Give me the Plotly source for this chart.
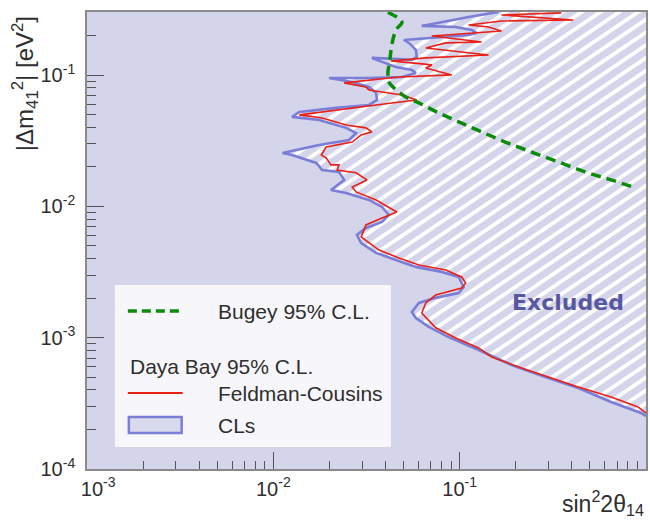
import base64
import plotly.graph_objects as go

# ---------------------------------------------------------------------------
# Exclusion contours in the (sin^2 2theta_14, |dm^2_41|) plane
# ---------------------------------------------------------------------------

# Bugey 95% C.L. contour
bugey_sin2 = [0.0412, 0.0490, 0.0455, 0.0432, 0.0422, 0.0412, 0.0417, 0.0444,
              0.0514, 0.0604, 0.0773, 0.0989, 0.131, 0.176, 0.243, 0.338,
              0.472, 0.650, 0.885]
bugey_dm2 = [0.300, 0.2535, 0.220, 0.169, 0.130, 0.104, 0.0885, 0.0798,
             0.068, 0.0614, 0.0514, 0.0440, 0.0369, 0.0309, 0.0259, 0.0218,
             0.0183, 0.0159, 0.0138]

# Daya Bay 95% C.L. contour, CLs method
cls_sin2 = [0.1617, 0.1117, 0.0626, 0.0952, 0.1159, 0.1233, 0.1117, 0.0801,
            0.0502, 0.0534, 0.0582, 0.0589, 0.0554, 0.0472, 0.0338, 0.0383,
            0.0455, 0.0554, 0.0582, 0.0490, 0.0326, 0.0199, 0.0265, 0.0326,
            0.0356, 0.0360, 0.0326, 0.0217, 0.0138, 0.0126, 0.0176, 0.0246,
            0.0278, 0.0255, 0.0176, 0.0112, 0.0126, 0.0170, 0.0183, 0.0225,
            0.0240, 0.0204, 0.0246, 0.0326, 0.0383, 0.0417, 0.0383, 0.0314,
            0.0281, 0.0296, 0.0356, 0.0455, 0.0582, 0.0801, 0.0988, 0.105,
            0.0988, 0.0744, 0.0604, 0.0554, 0.0582, 0.0683, 0.0873, 0.1264,
            0.1897, 0.2884, 0.4329, 0.6497, 0.9404, 1.0]
cls_dm2 = [0.302, 0.277, 0.2366, 0.2324, 0.2206, 0.2092, 0.2020, 0.1951,
           0.1850, 0.1756, 0.1553, 0.1373, 0.1303, 0.1326, 0.1350, 0.1259,
           0.1153, 0.1094, 0.1038, 0.0967, 0.0950, 0.0950, 0.0886, 0.0812,
           0.0731, 0.0646, 0.0592, 0.0562, 0.0524, 0.0480, 0.0455, 0.0396,
           0.0362, 0.0320, 0.0293, 0.0255, 0.0246, 0.0214, 0.0189, 0.0183,
           0.0159, 0.01333, 0.01265, 0.01119, 0.00990, 0.00860, 0.00761,
           0.00685, 0.00606, 0.00526, 0.00442, 0.00391, 0.00346, 0.00317,
           0.00290, 0.00243, 0.00219, 0.00201, 0.00184, 0.00157, 0.00141,
           0.00121, 0.00101, 0.000806, 0.000620, 0.000502, 0.000414,
           0.000324, 0.000267, 0.000253]

# Daya Bay 95% C.L. contour, Feldman-Cousins method
fc_sin2 = [0.3512, 0.1677, 0.407, 0.1677, 0.1117, 0.1429, 0.1677, 0.1159,
           0.0709, 0.1311, 0.0842, 0.0658, 0.1429, 0.0658, 0.0428, 0.0554,
           0.0709, 0.0658, 0.0906, 0.0472, 0.0240, 0.0314, 0.0326, 0.0490,
           0.0589, 0.0433, 0.0265, 0.0138, 0.0183, 0.0246, 0.0314, 0.0338,
           0.0296, 0.0265, 0.0192, 0.0181, 0.0192, 0.0204, 0.0225, 0.0220,
           0.0278, 0.0318, 0.0265, 0.0278, 0.0356, 0.0460, 0.0383, 0.0314,
           0.0296, 0.0369, 0.0472, 0.0604, 0.0842, 0.1025, 0.1077, 0.1025,
           0.0744, 0.0658, 0.0626, 0.0744, 0.0952, 0.1264, 0.1483, 0.2146,
           0.3105, 0.4329, 0.6497, 0.9062, 1.0]
fc_dm2 = [0.2972, 0.2868, 0.2628, 0.2582, 0.2407, 0.2324, 0.2167, 0.2092,
          0.1985, 0.1787, 0.1756, 0.1608, 0.1422, 0.1350, 0.1280, 0.1237,
          0.1194, 0.1133, 0.1002, 0.0967, 0.0871, 0.0812, 0.0770, 0.0705,
          0.0646, 0.0613, 0.0562, 0.0497, 0.0471, 0.0417, 0.0396, 0.0369,
          0.0350, 0.0309, 0.0283, 0.0246, 0.0234, 0.0207, 0.0207, 0.0189,
          0.0180, 0.0159, 0.01405, 0.01288, 0.01119, 0.00906, 0.00816,
          0.00722, 0.00585, 0.00465, 0.00405, 0.00358, 0.00328, 0.00290,
          0.00261, 0.00239, 0.00211, 0.00184, 0.00154, 0.00119, 0.000995,
          0.000835, 0.000713, 0.000588, 0.000493, 0.000421, 0.000353,
          0.000297, 0.000267]

# Axis ticks
x_tick_vals = [1e-3, 1e-2, 1e-1, 1.0]
x_tick_text = ["&nbsp;&nbsp;&nbsp;&nbsp;10<sup>-3</sup>", "10<sup>-2</sup>",
               "10<sup>-1</sup>", "1"]
y_tick_vals = [1e-4, 1e-3, 1e-2, 1e-1]
y_tick_text = ["10<sup>-4</sup>", "10<sup>-3</sup>", "10<sup>-2</sup>", "10<sup>-1</sup>"]

X_MIN, X_MAX = 1e-3, 1.0
Y_MIN, Y_MAX = 1e-4, 0.302

# ---------------------------------------------------------------------------
# Styling
# ---------------------------------------------------------------------------
W, H = 650, 522
M_L, M_R, M_T, M_B = 87, 2, 12, 53
PLOT_W, PLOT_H = W - M_L - M_R, H - M_T - M_B

LAVENDER = "rgb(212,212,235)"
CLS_BLUE = "rgb(122,126,214)"
FC_RED = "rgb(232,32,22)"
BUGEY_GREEN = "rgb(10,140,10)"
FRAME = "#8a8a8a"
TICK = "#555555"
TEXT = "#2e2e2e"
FONT = "Liberation Sans"

x_minor = [m * 10 ** e for e in (-3, -2, -1) for m in range(2, 10)]
y_minor = [m * 10 ** e for e in (-4, -3, -2, -1) for m in range(2, 10)
           if m * 10 ** e < 0.25]

# Diagonal white hatching for the excluded region (shown through wherever the
# allowed region is not painted over)
hatch_svg = (
    f"<svg xmlns='http://www.w3.org/2000/svg' width='{PLOT_W}' height='{PLOT_H}'>"
    "<defs><pattern id='h' width='10' height='10.6' patternUnits='userSpaceOnUse' "
    "patternTransform='rotate(-34)'>"
    "<rect x='0' y='0' width='10' height='3.8' fill='white'/></pattern></defs>"
    "<rect width='100%' height='100%' fill='url(#h)'/></svg>"
)
hatch_uri = "data:image/svg+xml;base64," + base64.b64encode(hatch_svg.encode()).decode()

fig = go.Figure()

# Allowed region (left of the CLs contour), solid fill
fig.add_trace(go.Scatter(
    x=[X_MIN] + cls_sin2 + [X_MAX, X_MIN],
    y=[Y_MAX] + cls_dm2 + [Y_MIN, Y_MIN],
    mode="lines", fill="toself", fillcolor=LAVENDER,
    line=dict(width=0), hoverinfo="skip", showlegend=False,
))

# CLs contour
fig.add_trace(go.Scatter(
    x=cls_sin2, y=cls_dm2, mode="lines",
    line=dict(color=CLS_BLUE, width=2.6), showlegend=False,
))

# Feldman-Cousins contour
fig.add_trace(go.Scatter(
    x=fc_sin2, y=fc_dm2, mode="lines",
    line=dict(color=FC_RED, width=1.6), showlegend=False,
))

# Bugey contour
fig.add_trace(go.Scatter(
    x=bugey_sin2, y=bugey_dm2, mode="lines", line_shape="spline",
    line=dict(color=BUGEY_GREEN, width=3.5, dash="10px,6px"), showlegend=False,
))


def px_x(px):
    """Horizontal pixel -> paper fraction of the plot area."""
    return (px - M_L) / PLOT_W


def px_y(py):
    """Vertical pixel (from top) -> paper fraction of the plot area."""
    return (H - M_B - py) / PLOT_H


shapes = [
    # legend box
    dict(type="rect", xref="paper", yref="paper", layer="above",
         x0=px_x(115), x1=px_x(392), y0=px_y(447), y1=px_y(285),
         fillcolor="#f7f7fb", line=dict(width=0)),
    # Bugey sample
    dict(type="line", xref="paper", yref="paper", layer="above",
         x0=px_x(128), x1=px_x(182), y0=px_y(311), y1=px_y(311),
         line=dict(color=BUGEY_GREEN, width=3.5, dash="9px,5px")),
    # Feldman-Cousins sample
    dict(type="line", xref="paper", yref="paper", layer="above",
         x0=px_x(128), x1=px_x(183), y0=px_y(393), y1=px_y(393),
         line=dict(color=FC_RED, width=1.8)),
    # CLs sample
    dict(type="rect", xref="paper", yref="paper", layer="above",
         x0=px_x(129), x1=px_x(182), y0=px_y(433), y1=px_y(417),
         fillcolor="rgb(218,218,238)", line=dict(color=CLS_BLUE, width=2.5)),
]

legend_font = dict(family=FONT, size=21, color=TEXT)
annotations = [
    dict(text="Bugey 95% C.L.", x=px_x(216), y=px_y(311)),
    dict(text="Daya Bay 95% C.L.", x=px_x(128), y=px_y(366)),
    dict(text="Feldman-Cousins", x=px_x(216), y=px_y(393)),
    dict(text="CLs", x=px_x(216), y=px_y(425)),
]
annotations = [dict(a, xref="paper", yref="paper", xanchor="left", yanchor="middle",
                    showarrow=False, font=legend_font) for a in annotations]

annotations += [
    dict(text="<b>Excluded</b>", x=px_x(570), y=px_y(302), xref="paper", yref="paper",
         showarrow=False, xanchor="center", yanchor="middle",
         font=dict(family="DejaVu Sans", size=22, color="rgb(88,88,160)")),
    # axis titles
    dict(text="|Δm<sub>41</sub><sup>2</sup>| [eV<sup>2</sup>]",
         x=px_x(25), y=px_y(84), xref="paper", yref="paper", textangle=-90,
         showarrow=False, xanchor="center", yanchor="middle",
         font=dict(family=FONT, size=24, color=TEXT)),
    dict(text="sin<sup>2</sup>2θ<sub>14</sub>",
         x=px_x(648), y=px_y(503), xref="paper", yref="paper",
         showarrow=False, xanchor="right", yanchor="middle",
         font=dict(family=FONT, size=23, color=TEXT)),
]

axis_common = dict(
    type="log", showgrid=False, zeroline=False,
    showline=True, linecolor=FRAME, linewidth=1.6, mirror=True,
    tickmode="array", ticks="inside", ticklen=17, tickwidth=1.3, tickcolor=TICK,
    tickfont=dict(family=FONT, size=20, color=TEXT),
)

fig.update_layout(
    width=W, height=H,
    margin=dict(l=M_L, r=M_R, t=M_T, b=M_B, pad=0),
    paper_bgcolor="white", plot_bgcolor=LAVENDER,
    showlegend=False, hovermode=False,
    xaxis=dict(axis_common, range=[-3, 0], tickvals=x_tick_vals, ticktext=x_tick_text,
               ticklabelstandoff=1,
               minor=dict(tickmode="array", tickvals=x_minor, ticks="inside",
                          ticklen=8, tickwidth=1.2, tickcolor=TICK, showgrid=False)),
    yaxis=dict(axis_common, range=[-4, -0.52], tickvals=y_tick_vals, ticktext=y_tick_text,
               ticklabelstandoff=6,
               minor=dict(tickmode="array", tickvals=y_minor, ticks="inside",
                          ticklen=9, tickwidth=1.2, tickcolor=TICK, showgrid=False)),
    images=[dict(source=hatch_uri, xref="x domain", yref="y domain",
                 x=0, y=1, sizex=1, sizey=1, xanchor="left", yanchor="top",
                 sizing="stretch", layer="below")],
    shapes=shapes,
    annotations=annotations,
)

fig.write_html("out.html", config={"displayModeBar": False})
